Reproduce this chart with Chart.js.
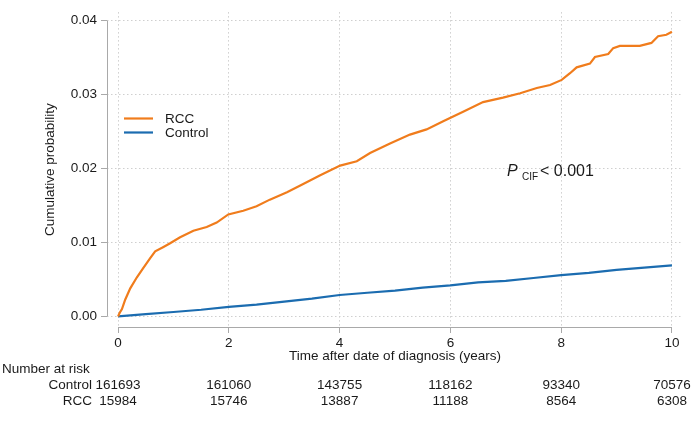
<!DOCTYPE html>
<html>
<head>
<meta charset="utf-8">
<script src="https://cdn.jsdelivr.net/npm/chart.js@4"></script>
<style>
  html, body { margin: 0; padding: 0; background: #ffffff; }
  #wrap { width: 693px; height: 424px; }
</style>
</head>
<body>
<div id="wrap"><canvas id="c" width="693" height="424"></canvas></div>
<script>
// ---- data ----
const rccTime = [0, 0.03, 0.07, 0.13, 0.22, 0.34, 0.46, 0.58, 0.67, 0.82, 0.94, 1.12, 1.36, 1.60, 1.78, 1.99, 2.26, 2.50, 2.74, 3.05, 3.29, 3.65, 4.01, 4.31, 4.55, 4.91, 5.27, 5.57, 5.87, 6.23, 6.59, 6.95, 7.26, 7.56, 7.80, 8.01, 8.16, 8.28, 8.52, 8.61, 8.85, 8.94, 9.06, 9.42, 9.63, 9.75, 9.90, 10.0];
const rccCif  = [0, 0.0005, 0.0010, 0.0023, 0.0038, 0.0053, 0.0066, 0.0079, 0.0088, 0.0094, 0.0099, 0.0107, 0.0116, 0.0121, 0.0127, 0.0138, 0.0143, 0.0149, 0.0158, 0.0168, 0.0177, 0.0191, 0.0204, 0.0210, 0.0221, 0.0234, 0.0246, 0.0253, 0.0264, 0.0277, 0.0290, 0.0296, 0.0302, 0.0309, 0.0313, 0.0320, 0.0329, 0.0337, 0.0342, 0.0351, 0.0355, 0.0363, 0.0366, 0.0366, 0.0370, 0.0379, 0.0381, 0.0385];
const ctrlTime = [0, 0.5, 1, 1.5, 2, 2.5, 3, 3.5, 4, 4.5, 5, 5.5, 6, 6.5, 7, 7.5, 8, 8.5, 9, 9.5, 10];
const ctrlCif  = [0, 0.0003, 0.0006, 0.0009, 0.0013, 0.0016, 0.0020, 0.0024, 0.0029, 0.0032, 0.0035, 0.0039, 0.0042, 0.0046, 0.0048, 0.0052, 0.0056, 0.0059, 0.0063, 0.0066, 0.0069];
const xTicks = [0, 2, 4, 6, 8, 10];
const yTicks = [0, 0.01, 0.02, 0.03, 0.04];
const riskTimes = [0, 2, 4, 6, 8, 10];
const riskControl = [161693, 161060, 143755, 118162, 93340, 70576];
const riskRCC = [15984, 15746, 13887, 11188, 8564, 6308];
const seriesNames = ['RCC', 'Control'];
const riskRowNames = ['Control', 'RCC'];

// ---- styles ----
const ORANGE = '#f07c1c';
const BLUE = '#1b6cb0';
const AXIS = '#a9a9a9';
const GRID = '#cfcfcf';
const TXT = '#1a1a1a';
const FONT = "'Liberation Sans', Arial, Helvetica, sans-serif";

function pts(xs, ys) { return xs.map((x, i) => ({ x: x, y: ys[i] })); }

const overlay = {
  id: 'overlay',
  afterDraw(chart) {
    const ctx = chart.ctx;
    const xs = chart.scales.x, ys = chart.scales.y;
    ctx.save();
    // axis lines spanning tick ranges
    ctx.strokeStyle = AXIS; ctx.lineWidth = 1;
    ctx.beginPath();
    const ax = Math.round(chart.chartArea.left) + 0.5;
    ctx.moveTo(ax, ys.getPixelForValue(yTicks[yTicks.length - 1]));
    ctx.lineTo(ax, ys.getPixelForValue(yTicks[0]));
    const ay = Math.round(chart.chartArea.bottom) + 0.5;
    ctx.moveTo(xs.getPixelForValue(xTicks[0]), ay);
    ctx.lineTo(xs.getPixelForValue(xTicks[xTicks.length - 1]), ay);
    ctx.stroke();

    // legend
    const cols = [ORANGE, BLUE];
    const legY = [118.5, 132.5];
    ctx.lineWidth = 2.2;
    ctx.font = '13.5px ' + FONT;
    ctx.textBaseline = 'middle';
    ctx.textAlign = 'left';
    seriesNames.forEach((n, i) => {
      ctx.strokeStyle = cols[i];
      ctx.beginPath();
      ctx.moveTo(124, legY[i]); ctx.lineTo(153, legY[i]);
      ctx.stroke();
      ctx.fillStyle = TXT;
      ctx.fillText(n, 165, legY[i] + 1);
    });

    // P annotation
    ctx.fillStyle = TXT;
    ctx.font = 'italic 16px ' + FONT;
    ctx.fillText('P', 507, 172);
    ctx.font = '10px ' + FONT;
    ctx.fillText('CIF', 522, 177);
    ctx.font = '16px ' + FONT;
    ctx.fillText('< 0.001', 540, 172);

    // number at risk table
    ctx.font = '13.5px ' + FONT;
    ctx.textAlign = 'left';
    ctx.fillText('Number at risk', 2, 369);
    const rows = [riskControl, riskRCC];
    const rowY = [385, 401];
    rows.forEach((row, r) => {
      ctx.textAlign = 'right';
      ctx.fillText(riskRowNames[r], 92, rowY[r]);
      ctx.textAlign = 'center';
      row.forEach((v, i) => {
        ctx.fillText(String(v), xs.getPixelForValue(riskTimes[i]), rowY[r]);
      });
    });
    ctx.restore();
  }
};

new Chart(document.getElementById('c'), {
  type: 'line',
  data: {
    datasets: [
      { label: seriesNames[0], data: pts(rccTime, rccCif), borderColor: ORANGE, borderWidth: 2.2, pointRadius: 0, tension: 0, fill: false },
      { label: seriesNames[1], data: pts(ctrlTime, ctrlCif), borderColor: BLUE, borderWidth: 2.2, pointRadius: 0, tension: 0, fill: false }
    ]
  },
  options: {
    responsive: false,
    animation: false,
    events: [],
    layout: { padding: { top: 0, right: 10, bottom: 0, left: 0 } },
    plugins: { legend: { display: false }, tooltip: { enabled: false }, title: { display: false } },
    scales: {
      x: {
        type: 'linear', min: -0.2, max: 10.2,
        afterBuildTicks(s) { s.ticks = xTicks.map(v => ({ value: v })); },
        afterFit(s) { s.height = 97; },
        ticks: { color: TXT, font: { family: FONT, size: 13.5 }, padding: 2, maxRotation: 0, autoSkip: false, callback: v => String(v) },
        grid: { color: GRID, lineWidth: 1, drawTicks: true, tickLength: 6, tickColor: AXIS, tickWidth: 1 },
        border: { display: false, dash: [1.5, 2.5] },
        title: { display: true, text: 'Time after date of diagnosis (years)', color: TXT, font: { family: FONT, size: 13.5 }, padding: { top: 0, bottom: 60 } }
      },
      y: {
        type: 'linear', min: -0.00143, max: 0.04117,
        afterBuildTicks(s) { s.ticks = yTicks.map(v => ({ value: v })); },
        afterFit(s) { s.width = 107; },
        ticks: { color: TXT, font: { family: FONT, size: 13.5 }, padding: 4, autoSkip: false, callback: v => Number(v).toFixed(2) },
        grid: { color: GRID, lineWidth: 1, drawTicks: true, tickLength: 6, tickColor: AXIS, tickWidth: 1 },
        border: { display: false, dash: [1.5, 2.5] },
        title: { display: true, text: 'Cumulative probability', color: TXT, font: { family: FONT, size: 13.5 }, padding: { top: 42, bottom: 0 } }
      }
    }
  },
  plugins: [overlay]
});
</script>
</body>
</html>
